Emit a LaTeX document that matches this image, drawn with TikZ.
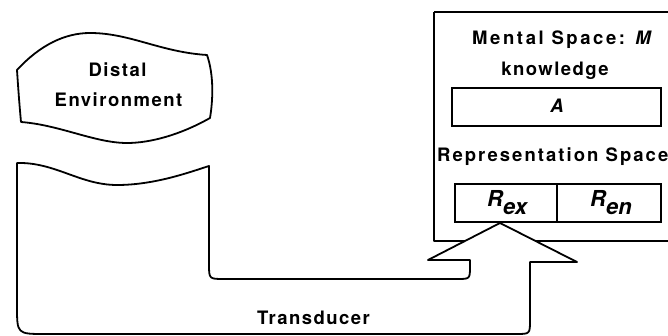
\documentclass[tikz,border=0pt]{standalone}
\usepackage{fontspec}
\newfontfamily\labfont{TeX Gyre Heros}[LetterSpace=8]
\newfontfamily\widefont{TeX Gyre Heros}[LetterSpace=14]
\newfontfamily\midfont{TeX Gyre Heros}[LetterSpace=11]
\newfontfamily\symfont{TeX Gyre Heros}
\begin{document}
\begin{tikzpicture}[x=1pt,y=-1pt,
  outline/.style={draw=black,line width=1.8pt,line join=round},
  thinbox/.style={draw=black,line width=1.5pt},
  lab/.style={inner sep=0pt,anchor=base,font=\labfont\bfseries\fontsize{18.5}{22}\selectfont},
  rlab/.style={inner sep=0pt,anchor=base west,font=\symfont\bfseries\itshape\fontsize{22}{26}\selectfont}]
\useasboundingbox (0,0) rectangle (668,336);
\clip (0,0) rectangle (668,336);

% Distal environment cloud
\draw[outline] (17,70) .. controls (40,45) and (65,33) .. (90,33)
  .. controls (130,33) and (160,52) .. (207,55)
  .. controls (214,75) and (213,100) .. (210,118)
  .. controls (180,135) and (150,143) .. (127,143)
  .. controls (95,143) and (60,125) .. (21,122)
  .. controls (19,100) and (18,85) .. cycle;
\node[lab] (distal) at (117.5,76.7) {Distal};
\node[lab] (environ) at (118.5,106.7) {Environment};

% Mental space
\draw[outline] (434,12) -- (434,241) -- (680,241);
\draw[outline] (434,12) -- (680,12);
\node[lab,font=\widefont\bfseries\fontsize{18.5}{22}\selectfont] (mental) at (561.5,44.7) {Mental Space: {\itshape M}};
\node[lab] (know) at (555,76) {knowledge};
\draw[thinbox] (452,88) rectangle (661,126);
\node[rlab,anchor=base,font=\symfont\bfseries\itshape\fontsize{18.5}{22}\selectfont] (a) at (557,112.5) {A};
\node[lab,anchor=base west,font=\midfont\bfseries\fontsize{18.5}{22}\selectfont] (repspace) at (437,161.7) {Representation Space};
\draw[thinbox] (455,184) rectangle (661,222);
\draw[thinbox] (557,184) -- (557,222);
\node[rlab] (rex) at (487,206.7) {R\raisebox{-8.3pt}{ex}};
\node[rlab] (ren) at (590,206.7) {R\raisebox{-8.3pt}{en}};

% Transducer with its arrow into the representation space
\draw[outline,fill=white] (17,163) .. controls (55,162) and (80,185) .. (117,185)
  .. controls (155,185) and (190,172) .. (209,166)
  -- (209,264) .. controls (209,279) .. (224,279)
  -- (457,279) .. controls (470,279) .. (470,266)
  -- (470,260) -- (428,260) -- (500,223) -- (577,262) -- (530,262)
  -- (530,320) .. controls (530,334) .. (516,334)
  -- (45,334) .. controls (17,334) .. (17,306)
  -- cycle;
\node[lab] (trans) at (313.5,324) {Transducer};
\end{tikzpicture}
\end{document}
